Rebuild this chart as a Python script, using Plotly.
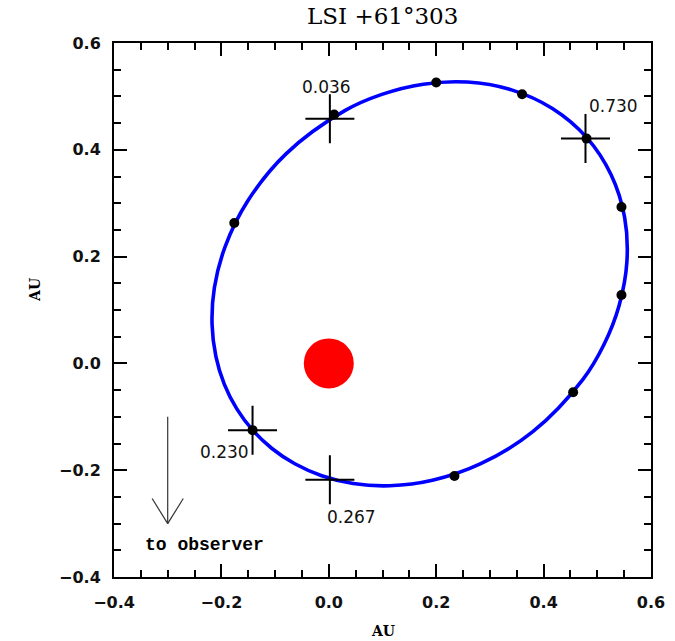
import plotly.graph_objects as go

# Orbit of the compact object around the Be star (AU), traced as a closed curve
orbit_x = [-0.1418, -0.1059, -0.0633, -0.0132, 0.0454, 0.1137, 0.1930, 0.2829, 0.3799,
           0.4733, 0.5122, 0.5408, 0.5551, 0.5509, 0.5257, 0.4800, 0.4164, 0.3403,
           0.2581, 0.1760, 0.0988, 0.0298, -0.0792, -0.1510, -0.1930, -0.2131, -0.2174,
           -0.2103, -0.1945, -0.1713, -0.1418]
orbit_y = [-0.1250, -0.1593, -0.1880, -0.2103, -0.2249, -0.2291, -0.2189, -0.1879, -0.1279,
           -0.0298, 0.0349, 0.1091, 0.1900, 0.2734, 0.3532, 0.4232, 0.4773, 0.5122,
           0.5269, 0.5229, 0.5038, 0.4733, 0.3929, 0.3042, 0.2189, 0.1416, 0.0732,
           0.0132, -0.0392, -0.0851, -0.1250]

# Orbital positions marked with dots
dot_x = [-0.176, 0.200, 0.360, 0.545, 0.545, 0.455, 0.234, 0.010, 0.480, -0.142]
dot_y = [0.263, 0.526, 0.504, 0.293, 0.128, -0.054, -0.211, 0.466, 0.421, -0.125]

# Special orbital phases (crosses) and their labels
cross_x = [0.002, 0.478, -0.142, 0.002]
cross_y = [0.458, 0.421, -0.125, -0.218]
cross_phase = ["0.036", "0.730", "0.230", "0.267"]

# Be star at the focus
star_x = [0.0]
star_y = [0.0]

tick_vals = [-0.4, -0.2, 0.0, 0.2, 0.4, 0.6]

fig = go.Figure()

fig.add_trace(go.Scatter(
    x=orbit_x, y=orbit_y, mode="lines",
    line=dict(color="#0000ff", width=3.6, shape="spline", smoothing=1.0),
    hoverinfo="skip", showlegend=False,
))

fig.add_trace(go.Scatter(
    x=star_x, y=star_y, mode="markers",
    marker=dict(color="#ff0000", size=50, line=dict(width=0)),
    showlegend=False,
))

fig.add_trace(go.Scatter(
    x=cross_x, y=cross_y, mode="markers",
    marker=dict(symbol="cross-thin", size=35, line=dict(color="black", width=2)),
    showlegend=False,
))

fig.add_trace(go.Scatter(
    x=dot_x, y=dot_y, mode="markers",
    marker=dict(color="black", size=10, line=dict(width=0)),
    showlegend=False,
))

# Phase labels, offset from their crosses in pixels
label_shift = {"0.036": (-3, 32), "0.730": (28, 33), "0.230": (-28, -22), "0.267": (22, -37)}
for cx, cy, ph in zip(cross_x, cross_y, cross_phase):
    dx, dy = label_shift[ph]
    fig.add_annotation(x=cx, y=cy, text=ph, showarrow=False, xshift=dx, yshift=dy,
                       font=dict(family="DejaVu Sans", size=17, color="#111"))

# "to observer" arrow
arrow_col = "#333333"
fig.add_shape(type="line", x0=-0.3, y0=-0.1, x1=-0.3, y1=-0.3,
              line=dict(color=arrow_col, width=1.2))
fig.add_shape(type="line", x0=-0.329, y0=-0.253, x1=-0.3, y1=-0.3,
              line=dict(color=arrow_col, width=1.2))
fig.add_shape(type="line", x0=-0.271, y0=-0.253, x1=-0.3, y1=-0.3,
              line=dict(color=arrow_col, width=1.2))
fig.add_annotation(x=-0.232, y=-0.341, text="<b>to observer</b>", showarrow=False,
                   font=dict(family="Liberation Mono", size=18, color="black"))

# Title and axis labels
fig.add_annotation(xref="paper", yref="paper", x=0.5, y=1, yanchor="bottom", yshift=12,
                   text="LSI +61°303", showarrow=False,
                   font=dict(family="DejaVu Serif", size=23, color="black"))
fig.add_annotation(xref="paper", yref="paper", x=0.5, y=0, yanchor="top", yshift=-44,
                   text="<b>AU</b>", showarrow=False,
                   font=dict(family="DejaVu Serif", size=14, color="black"))
fig.add_annotation(xref="paper", yref="paper", x=0, y=0.5375, xanchor="center", xshift=-79,
                   text="<b>AU</b>", showarrow=False, textangle=-90,
                   font=dict(family="DejaVu Serif", size=14, color="black"))

axis_common = dict(
    showgrid=False, zeroline=False, showline=True, linecolor="black", linewidth=2,
    mirror="allticks", ticks="inside", ticklen=13, tickwidth=1.8, tickcolor="black",
    tickvals=tick_vals, tickformat=".1f",
    tickfont=dict(family="DejaVu Sans", size=16, color="#111", weight="bold"),
    minor=dict(dtick=0.05, ticks="inside", ticklen=7, tickwidth=1.6, tickcolor="black",
               showgrid=False),
)

fig.update_xaxes(range=[-0.4, 0.6], ticklabelstandoff=10, **axis_common)
fig.update_yaxes(range=[-0.4, 0.6], ticklabelstandoff=8, **axis_common)

fig.update_layout(
    width=675, height=641,
    margin=dict(l=114, r=24, t=43, b=64, autoexpand=False),
    plot_bgcolor="white", paper_bgcolor="white",
    showlegend=False,
)

fig.write_html("out.html")
